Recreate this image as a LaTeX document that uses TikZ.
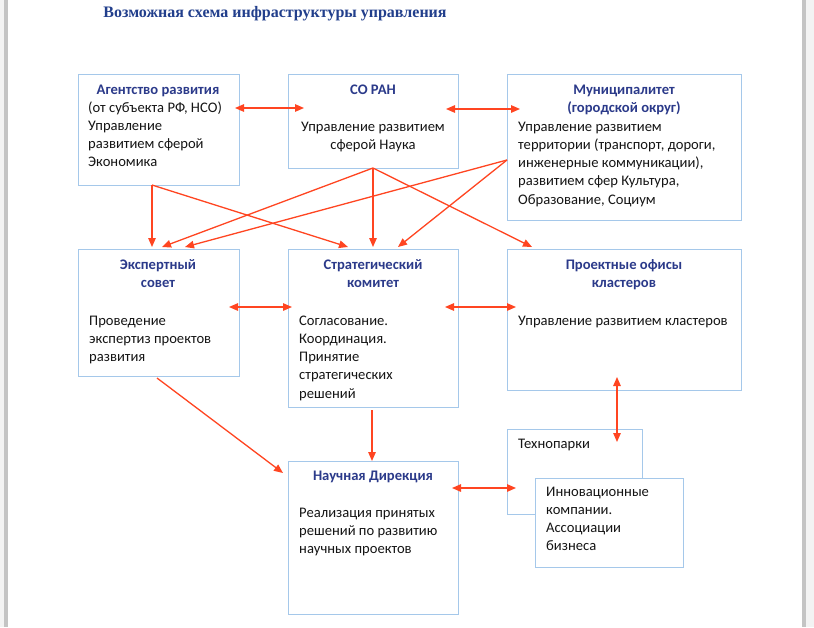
\documentclass[tikz,border=0pt]{standalone}
\usepackage{fontspec}
\setmainfont{Carlito}
\newfontfamily\titlefont{Liberation Serif}
\usetikzlibrary{arrows.meta}
\definecolor{arrowred}{HTML}{FF4521}
\definecolor{boxblue}{HTML}{A5C8EA}
\definecolor{navy}{HTML}{2B3A8A}
\definecolor{titleblue}{HTML}{223F8C}
\definecolor{edgegray}{HTML}{C4C4C4}
\definecolor{outgray}{HTML}{F3F3F3}
\definecolor{bodyblack}{HTML}{151515}
\tikzset{
  box/.style={draw=boxblue, line width=1.1pt, fill=white, anchor=north west, inner sep=0pt},
  head/.style={font=\bfseries\fontsize{14.6}{18.3}\selectfont, text=navy, align=center, inner sep=0pt},
  body/.style={font=\fontsize{14.6}{18.3}\selectfont, text=bodyblack, align=left, inner sep=0pt},
  bodyc/.style={font=\fontsize{14.6}{18.3}\selectfont, text=bodyblack, align=center, inner sep=0pt},
  link/.style={draw=arrowred, line width=1.3pt, -{Triangle[length=9pt,width=7.5pt]}},
  link2/.style={draw=arrowred, line width=1.3pt, {Triangle[length=9pt,width=7.5pt]}-{Triangle[length=9pt,width=7.5pt]}}
}
\begin{document}
\begin{tikzpicture}[x=1pt,y=-1pt]
\useasboundingbox (0,0) rectangle (814,627);
% page background
\fill[outgray] (0,0) rectangle (814,627);
\fill[edgegray] (4,0) rectangle (8,627);
\fill[edgegray] (802,0) rectangle (806,627);
\fill[white] (8,0) rectangle (802,627);

% title
\node[font=\titlefont\bfseries\fontsize{16}{19}\selectfont, text=titleblue, anchor=base, inner sep=0pt] (title) at (275,17) {Возможная схема инфраструктуры управления};

% boxes
\node[box, minimum width=161pt, minimum height=111pt] (agency) at (78,74) {};
\node[box, minimum width=170pt, minimum height=94pt] (soran) at (288,74) {};
\node[box, minimum width=234pt, minimum height=146pt] (munic) at (507,74) {};
\node[box, minimum width=161pt, minimum height=127pt] (expert) at (78,249) {};
\node[box, minimum width=170pt, minimum height=158pt] (strat) at (288,249) {};
\node[box, minimum width=234pt, minimum height=141pt] (proj) at (507,249) {};
\node[box, minimum width=135pt, minimum height=85pt] (techno) at (507,429) {};
\node[box, minimum width=148pt, minimum height=89pt] (innov) at (535,478) {};
\node[box, minimum width=170pt, minimum height=153pt] (sci) at (288,461) {};

% texts (anchor = baseline of the last line)
\node[head, anchor=base] (agencyH) at (158,94) {Агентство развития};
\node[body, anchor=base west] (agencyB) at (88,166.9) {(от субъекта РФ, НСО)\\Управление\\развитием сферой\\Экономика};
\node[head, anchor=base] (soranH) at (373,94) {СО РАН};
\node[bodyc, anchor=base] (soranB) at (373,149.3) {Управление развитием\\сферой Наука};
\node[head, anchor=base] (municH) at (624,112.3) {Муниципалитет\\(городской округ)};
\node[body, anchor=base west] (municB) at (518,204.2) {Управление развитием\\территории (транспорт, дороги,\\инженерные коммуникации),\\развитием сфер Культура,\\Образование, Социум};
\node[head, anchor=base] (expertH) at (158,287.3) {Экспертный\\совет};
\node[body, anchor=base west] (expertB) at (89,361.6) {Проведение\\экспертиз проектов\\развития};
\node[head, anchor=base] (stratH) at (373,287.3) {Стратегический\\комитет};
\node[body, anchor=base west] (stratB) at (299,398.2) {Согласование.\\Координация.\\Принятие\\стратегических\\решений};
\node[head, anchor=base] (projH) at (624,287.3) {Проектные офисы\\кластеров};
\node[body, anchor=base west] (projB) at (518,325) {Управление развитием кластеров};
\node[body, anchor=base west] (technoB) at (518,448) {Технопарки};
\node[body, anchor=base west] (innovB) at (546,550.9) {Инновационные\\компании.\\Ассоциации\\бизнеса};
\node[head, anchor=base] (sciH) at (373,480) {Научная Дирекция};
\node[body, anchor=base west] (sciB) at (299,553.6) {Реализация принятых\\решений по развитию\\научных проектов};

% connector end points
\coordinate (a1) at (235,108); \coordinate (s1) at (304,108);
\coordinate (s2) at (446,109); \coordinate (m1) at (520,109);
\coordinate (aB) at (152,185);
\coordinate (sB) at (373,168);
\coordinate (mB) at (507,160);
\coordinate (e1) at (152,247); \coordinate (e2) at (162,247); \coordinate (e3) at (185,247);
\coordinate (t1) at (348,247); \coordinate (t2) at (373,247); \coordinate (t3) at (398,247);
\coordinate (p1) at (532,247);
\coordinate (e4) at (229,307); \coordinate (t4) at (292,307);
\coordinate (t5) at (445,307); \coordinate (p2) at (516,307);
\coordinate (p3) at (617,377); \coordinate (k1) at (617,442);
\coordinate (eB) at (157,378); \coordinate (d1) at (283,473);
\coordinate (tB) at (372,410); \coordinate (d2) at (372,461);
\coordinate (d3) at (452,488); \coordinate (k2) at (516,488);

% connectors
\draw[link2] (a1) -- (s1);
\draw[link2] (s2) -- (m1);
\draw[link] (aB) -- (e1);
\draw[link] (aB) -- (t1);
\draw[link] (sB) -- (e2);
\draw[link] (sB) -- (t2);
\draw[link] (sB) -- (p1);
\draw[link] (mB) -- (e3);
\draw[link] (mB) -- (t3);
\draw[link2] (e4) -- (t4);
\draw[link2] (t5) -- (p2);
\draw[link2] (p3) -- (k1);
\draw[link] (eB) -- (d1);
\draw[link] (tB) -- (d2);
\draw[link2] (d3) -- (k2);
\end{tikzpicture}
\end{document}
